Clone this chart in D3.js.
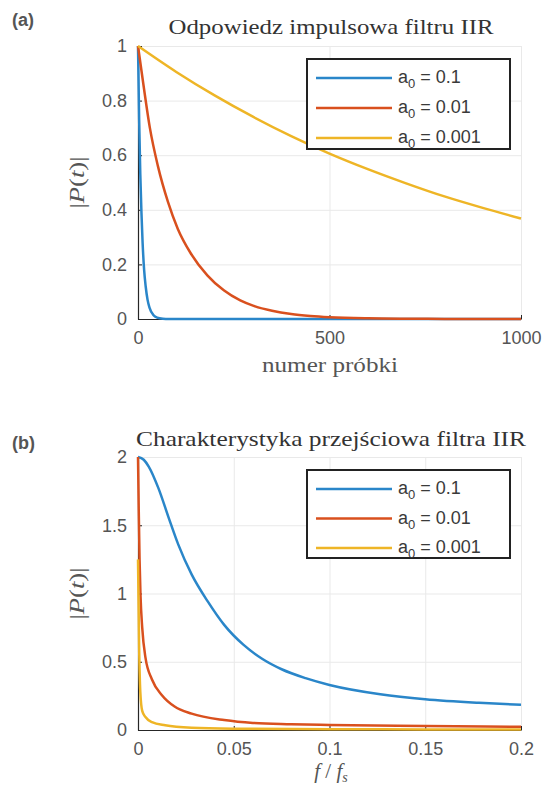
<!DOCTYPE html>
<html>
<head>
<meta charset="utf-8">
<script src="https://cdn.jsdelivr.net/npm/d3@7"></script>
<style>
  body { margin: 0; background: #fff; }
  svg { display: block; }
</style>
</head>
<body>
<script>
// ---- data ----
var legendValues = ['0.1', '0.01', '0.001'];
var seriesColors = ['#2a86c9', '#d9501e', '#eeb526'];

// (a) impulse response, [sample number, |P|]
var impulse01 = [[0,1],[3,0.73],[6,0.53],[9,0.39],[12,0.28],[16,0.18],[20,0.12],[25,0.07],[30,0.042],[40,0.015],[50,0.005],[65,0.001],[80,0],[1000,0]];
var impulse001 = [[0,1],[14,0.86],[31,0.7],[52,0.56],[78,0.43],[104,0.33],[138,0.24],[181,0.16],[224,0.105],[267,0.068],[302,0.048],[350,0.03],[400,0.018],[450,0.011],[500,0.0066],[600,0.0024],[700,0.0009],[800,0.0003],[1000,0]];
var impulse0001 = [[0,1],[100,0.905],[200,0.819],[300,0.741],[400,0.67],[500,0.606],[600,0.549],[700,0.497],[800,0.449],[900,0.407],[1000,0.368]];

// (b) characteristic, [f/fs, |P|]
var freq01 = [[0,2],[0.003,1.98],[0.0056,1.93],[0.0107,1.77],[0.0159,1.56],[0.021,1.36],[0.028,1.14],[0.0365,0.94],[0.045,0.77],[0.055,0.625],[0.065,0.52],[0.075,0.445],[0.0875,0.38],[0.1,0.33],[0.1265,0.262],[0.15,0.225],[0.178,0.199],[0.2,0.185]];
var freq001 = [[0,2],[0.0004,1.6],[0.0008,1.26],[0.0013,0.99],[0.0022,0.75],[0.0039,0.53],[0.0073,0.37],[0.0125,0.255],[0.0193,0.17],[0.028,0.12],[0.045,0.073],[0.06,0.052],[0.08,0.043],[0.1,0.037],[0.15,0.029],[0.2,0.024]];
var freq0001 = [[0,1.25],[0.0006,0.6],[0.0012,0.28],[0.0022,0.14],[0.0039,0.095],[0.0073,0.058],[0.0142,0.035],[0.028,0.017],[0.05,0.01],[0.1,0.006],[0.15,0.004],[0.2,0.003]];

var xTicksA = [0, 500, 1000];
var yTicksA = [0, 0.2, 0.4, 0.6, 0.8, 1];
var xTicksB = [0, 0.05, 0.1, 0.15, 0.2];
var yTicksB = [0, 0.5, 1, 1.5, 2];

var sans = "'Liberation Sans', Arial, sans-serif";
var serif = "'Liberation Serif', 'Times New Roman', serif";

var X0 = 138, X1 = 521;

var svg = d3.select('body').append('svg')
  .attr('width', 545)
  .attr('height', 786);

function drawPanel(p){
  var x = d3.scaleLinear().domain(p.xDomain).range([X0, X1]);
  var y = d3.scaleLinear().domain(p.yDomain).range(p.yRange);
  var g = svg.append('g');
  var h = p.yRange[0] - p.yRange[1];

  // panel tag
  g.append('text').attr('x', 12).attr('y', p.tagY)
    .style('font-family', sans).style('font-size', '18px').style('font-weight', 'bold')
    .style('fill', '#555').text(p.tag);

  // grid
  g.append('g').attr('transform', 'translate(0,' + p.yRange[0] + ')')
    .call(d3.axisBottom(x).tickValues(p.xTicks).tickSize(-h).tickFormat(''))
    .call(function(s){ s.select('.domain').remove(); s.selectAll('line').attr('stroke', '#e9e9e9'); });
  g.append('g').attr('transform', 'translate(' + X0 + ',0)')
    .call(d3.axisLeft(y).tickValues(p.yTicks).tickSize(-(X1 - X0)).tickFormat(''))
    .call(function(s){ s.select('.domain').remove(); s.selectAll('line').attr('stroke', '#e9e9e9'); });

  // axes, ticks pointing inward
  var ax = g.append('g').attr('transform', 'translate(0,' + p.yRange[0] + ')')
    .call(d3.axisBottom(x).tickValues(p.xTicks).tickSize(-4).tickSizeOuter(0).tickPadding(12).tickFormat(function(d){ return String(d); }));
  var ay = g.append('g').attr('transform', 'translate(' + X0 + ',0)')
    .call(d3.axisLeft(y).tickValues(p.yTicks).tickSize(-4).tickSizeOuter(0).tickPadding(11).tickFormat(function(d){ return String(d); }));
  [ax, ay].forEach(function(a){
    a.select('.domain').attr('stroke', '#262626').attr('stroke-width', 1.2);
    a.selectAll('.tick line').attr('stroke', '#262626');
    a.selectAll('text').style('font-family', sans).style('font-size', '18px').style('fill', '#555');
  });

  // curves
  var line = d3.line()
    .x(function(d){ return x(d[0]); })
    .y(function(d){ return y(d[1]); })
    .curve(d3.curveMonotoneX);
  g.selectAll('path.series')
    .data(p.series)
    .enter()
    .append('path')
    .attr('class', 'series')
    .attr('d', line)
    .attr('fill', 'none')
    .attr('stroke', function(d, i){ return seriesColors[i]; })
    .attr('stroke-width', 2.5);

  // title
  g.append('text').attr('x', 331).attr('y', p.titleY)
    .attr('text-anchor', 'middle')
    .attr('textLength', p.titleLen).attr('lengthAdjust', 'spacingAndGlyphs')
    .style('font-family', serif).style('font-size', '21px').style('fill', '#333')
    .text(p.title);

  // y label |P(t)|
  var yl = g.append('text')
    .attr('transform', 'translate(84,' + (p.yRange[0] + p.yRange[1]) / 2 + ') rotate(-90)')
    .attr('text-anchor', 'middle')
    .attr('textLength', 52).attr('lengthAdjust', 'spacingAndGlyphs')
    .style('font-family', serif).style('font-size', '22px').style('fill', '#555');
  yl.append('tspan').text('|');
  yl.append('tspan').style('font-style', 'italic').text('P');
  yl.append('tspan').text('(');
  yl.append('tspan').style('font-style', 'italic').text('t');
  yl.append('tspan').text(')|');

  // x label
  p.xLabel(g);

  // legend
  var lg = g.append('g');
  lg.append('rect').attr('x', 307).attr('y', p.legendTop)
    .attr('width', 203).attr('height', p.legendH)
    .attr('fill', '#fff').attr('stroke', '#222').attr('stroke-width', 2);
  legendValues.forEach(function(v, i){
    var ly = p.legendTop + 19 + i * p.legendStep;
    lg.append('line').attr('x1', 316).attr('x2', 392).attr('y1', ly).attr('y2', ly)
      .attr('stroke', seriesColors[i]).attr('stroke-width', 2.5);
    var t = lg.append('text').attr('x', 398).attr('y', ly + 5)
      .style('font-family', sans).style('font-size', '18px').style('fill', '#3a3a3a');
    t.append('tspan').text('a');
    t.append('tspan').attr('dy', 5).style('font-size', '13px').text('0');
    t.append('tspan').attr('dy', -5).text(' = ' + v);
  });
}

drawPanel({
  tag: '(a)', tagY: 26,
  title: 'Odpowiedz impulsowa filtru IIR', titleY: 34, titleLen: 325,
  xDomain: [0, 1000], yDomain: [0, 1], yRange: [319, 46],
  xTicks: xTicksA, yTicks: yTicksA,
  series: [impulse01, impulse001, impulse0001],
  legendTop: 59, legendH: 90, legendStep: 30,
  xLabel: function(g){
    g.append('text').attr('x', 330).attr('y', 372)
      .attr('text-anchor', 'middle')
      .attr('textLength', 136).attr('lengthAdjust', 'spacingAndGlyphs')
      .style('font-family', serif).style('font-size', '21px').style('fill', '#555')
      .text('numer próbki');
  }
});

drawPanel({
  tag: '(b)', tagY: 449,
  title: 'Charakterystyka przejściowa filtra IIR', titleY: 446, titleLen: 390,
  xDomain: [0, 0.2], yDomain: [0, 2], yRange: [730, 457],
  xTicks: xTicksB, yTicks: yTicksB,
  series: [freq01, freq001, freq0001],
  legendTop: 470, legendH: 88, legendStep: 29.5,
  xLabel: function(g){
    var t = g.append('text').attr('x', 331).attr('y', 778)
      .attr('text-anchor', 'middle')
      .style('font-family', serif).style('font-size', '21px').style('fill', '#555');
    t.append('tspan').style('font-style', 'italic').text('f');
    t.append('tspan').text(' / ');
    t.append('tspan').style('font-style', 'italic').text('f');
    t.append('tspan').attr('dy', 4).style('font-size', '14px').style('font-style', 'italic').text('s');
  }
});
</script>
</body>
</html>
